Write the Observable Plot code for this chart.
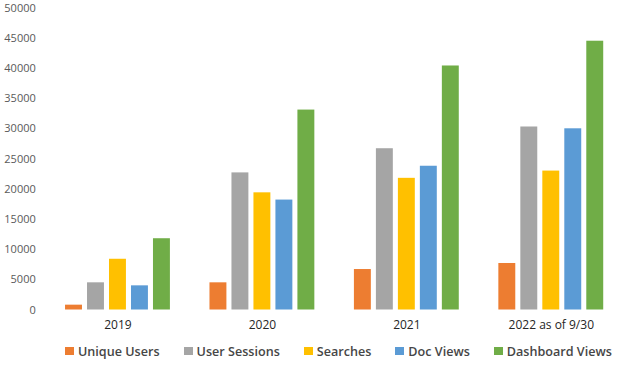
<!DOCTYPE html>
<html>
<head>
<meta charset="utf-8">
<script src="https://cdn.jsdelivr.net/npm/d3@7"></script>
<script src="https://cdn.jsdelivr.net/npm/@observablehq/plot@0.6"></script>
<style>
  html, body { margin: 0; padding: 0; background: #fff; }
  #chart { width: 624px; }
  .legend { display: flex; align-items: center; height: 30px; padding-left: 65px; white-space: nowrap;
            font-family: "Open Sans", sans-serif; font-weight: 600; font-size: 12.6px; color: #464646; }
  .legend .item { display: flex; align-items: center; margin-right: 24px; flex-shrink: 0; }
  .legend .sw { width: 9px; height: 8px; margin-right: 4px; flex-shrink: 0; }
</style>
</head>
<body>
<div id="chart"></div>
<script>
const years = ["2019", "2020", "2021", "2022 as of 9/30"];
const series = ["Unique Users", "User Sessions", "Searches", "Doc Views", "Dashboard Views"];
const colors = ["#ED7D31", "#A5A5A5", "#FFC000", "#5B9BD5", "#70AD47"];
const uniqueUsers = [800, 4500, 6700, 7700];
const userSessions = [4500, 22700, 26700, 30300];
const searches = [8400, 19400, 21800, 23000];
const docViews = [4000, 18200, 23800, 30000];
const dashboardViews = [11800, 33100, 40400, 44500];
const yTicks = [0, 5000, 10000, 15000, 20000, 25000, 30000, 35000, 40000, 45000, 50000];

const valuesBySeries = [uniqueUsers, userSessions, searches, docViews, dashboardViews];
const data = [];
years.forEach((yr, i) => {
  series.forEach((s, j) => data.push({year: yr, series: s, value: valuesBySeries[j][i]}));
});

const H = 336;
const chart = Plot.plot({
  width: 624,
  height: H,
  marginTop: 7.5,
  marginBottom: H - 309.5,
  marginLeft: 45.25,
  marginRight: 1,
  style: {fontFamily: "Open Sans, sans-serif", background: "#fff"},
  fx: {domain: years, padding: 0, round: false, label: null},
  x: {domain: series, paddingInner: 0.23, paddingOuter: 0.9, round: false, axis: null},
  y: {domain: [0, 50000], label: null},
  color: {domain: series, range: colors},
  marks: [
    Plot.axisY({ticks: yTicks, tickSize: 0, tickPadding: 10, tickFormat: d => String(d),
                fontSize: 11, color: "#595959", label: null}),
    Plot.axisFx({anchor: "bottom", tickSize: 0, tickPadding: 10, fontSize: 12, color: "#262626", label: null}),
    Plot.barY(data, {fx: "year", x: "series", y: "value", fill: "series"})
  ]
});
document.getElementById("chart").appendChild(chart);

const legend = document.createElement("div");
legend.className = "legend";
series.forEach((s, j) => {
  const item = document.createElement("div");
  item.className = "item";
  const sw = document.createElement("span");
  sw.className = "sw";
  sw.style.background = colors[j];
  const t = document.createElement("span");
  t.textContent = s;
  item.appendChild(sw);
  item.appendChild(t);
  legend.appendChild(item);
});
document.getElementById("chart").appendChild(legend);
</script>
</body>
</html>
